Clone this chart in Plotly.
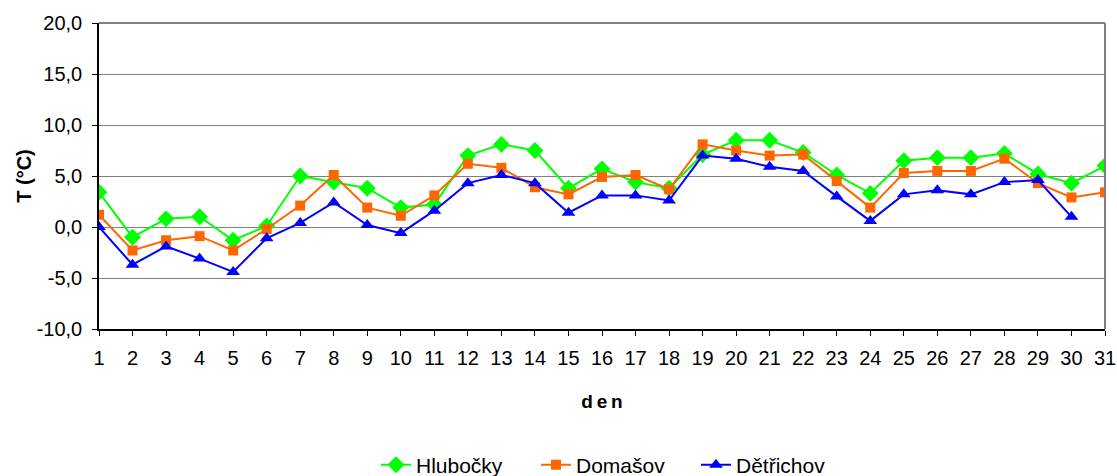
import plotly.graph_objects as go

days = list(range(1, 32))
hlubocky = [3.4, -1.0, 0.8, 1.0, -1.3, 0.1, 5.0, 4.4, 3.8, 1.9, 2.2, 7.0, 8.1, 7.5, 3.8, 5.7, 4.4, 3.8, 7.1, 8.5,
            8.5, 7.3, 5.1, 3.3, 6.5, 6.8, 6.8, 7.2, 5.2, 4.3, 6.0]
domasov = [1.2, -2.3, -1.3, -0.9, -2.3, -0.2, 2.1, 5.1, 1.9, 1.1, 3.1, 6.2, 5.8, 3.9, 3.2, 4.9, 5.1, 3.7, 8.1, 7.5,
           7.0, 7.1, 4.5, 1.9, 5.3, 5.5, 5.5, 6.7, 4.3, 2.9, 3.4]
detrichov = [0.0, -3.7, -1.9, -3.1, -4.4, -1.1, 0.4, 2.4, 0.2, -0.6, 1.6, 4.3, 5.1, 4.3, 1.4, 3.1, 3.1, 2.6, 7.0, 6.7,
             5.9, 5.5, 3.0, 0.6, 3.2, 3.6, 3.2, 4.4, 4.6, 1.0, None]

y_tickvals = [-10, -5, 0, 5, 10, 15, 20]
y_ticktext = ["-10,0", "-5,0", "0,0", "5,0", "10,0", "15,0", "20,0"]

series = [
    ("Hlubočky", hlubocky, "#00FF00", "diamond", 13),
    ("Domašov", domasov, "#FF6600", "square", 10),
    ("Dětřichov", detrichov, "#0000FF", "triangle-up", 12),
]

fig = go.Figure()
for name, vals, color, sym, size in series:
    fig.add_trace(go.Scatter(
        x=days, y=vals, name=name, mode="lines+markers",
        line=dict(color=color, width=2),
        marker=dict(symbol=sym, size=size, color=color),
        connectgaps=False,
    ))

font = "Liberation Sans, Arial, sans-serif"
fig.update_layout(
    width=1117, height=476,
    margin=dict(l=99, r=12, t=23, b=147, autoexpand=False),
    paper_bgcolor="white", plot_bgcolor="white",
    font=dict(family=font, size=20, color="black"),
    showlegend=True,
    legend=dict(orientation="h", x=0.3366, xanchor="left", xref="container",
                y=0.023, yanchor="middle", yref="container",
                entrywidth=115, entrywidthmode="pixels",
                font=dict(size=21), tracegroupgap=0),
    xaxis=dict(
        range=[1, 31], tickmode="linear", tick0=1, dtick=1,
        showgrid=False, zeroline=False, automargin=False,
        showline=True, linecolor="black", linewidth=1.5,
        ticks="outside", ticklen=5, tickcolor="black",
        tickfont=dict(size=20), ticklabelstandoff=5, ticklabeloverflow="allow",
        title=dict(text="<b>d\u2009e\u2009n</b>", font=dict(size=19), standoff=27),
    ),
    yaxis=dict(
        range=[-10, 20], tickmode="array", tickvals=y_tickvals, ticktext=y_ticktext,
        showgrid=True, gridcolor="#808080", gridwidth=1,
        zeroline=False, automargin=False,
        showline=True, linecolor="black", linewidth=1.5,
        ticks="outside", ticklen=5, tickcolor="black",
        tickfont=dict(size=20), ticklabelstandoff=6,
        title=dict(text="<b>T (°C)</b>", font=dict(size=20), standoff=0),
    ),
    shapes=[
        dict(type="line", xref="paper", yref="paper", x0=1, x1=1, y0=0, y1=1,
             line=dict(color="#808080", width=2)),
        dict(type="line", xref="paper", yref="paper", x0=0, x1=1, y0=1, y1=1,
             line=dict(color="#808080", width=2)),
    ],
)

fig.write_html("out.html", config={"displayModeBar": False},
               post_script="document.body.style.margin='0';document.body.style.overflow='hidden';")
